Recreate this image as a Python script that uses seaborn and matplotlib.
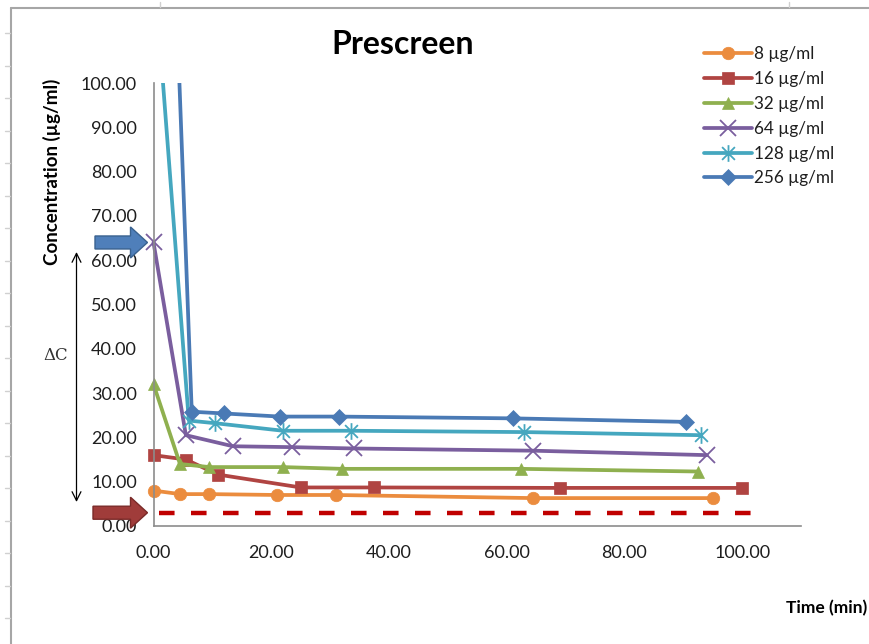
import numpy as np
import pandas as pd
import seaborn as sns
import matplotlib
matplotlib.use("Agg")
import matplotlib.pyplot as plt
from matplotlib.path import Path
from matplotlib.patches import Rectangle, FancyArrow
from matplotlib.lines import Line2D
from matplotlib.transforms import IdentityTransform

# ---- data: concentration (µg/ml) versus time (min) for each starting dose ----
labels = ["8 µg/ml", "16 µg/ml", "32 µg/ml", "64 µg/ml", "128 µg/ml", "256 µg/ml"]

t_8 = [0, 4.5, 9.5, 21, 31, 64.5, 95]
c_8 = [8.0, 7.2, 7.2, 7.0, 7.0, 6.3, 6.3]

t_16 = [0, 5.5, 11, 25, 37.5, 69, 100]
c_16 = [16.0, 15.0, 11.6, 8.7, 8.7, 8.6, 8.6]

t_32 = [0, 4.5, 9.5, 22, 32, 62.5, 92.5]
c_32 = [32.0, 14.0, 13.3, 13.3, 12.9, 12.9, 12.3]

t_64 = [0, 5.5, 13.5, 23.5, 34, 64.5, 94]
c_64 = [64.0, 20.5, 18.0, 17.8, 17.5, 17.0, 16.0]

t_128 = [0, 6, 10.5, 22, 33.5, 63, 93]
c_128 = [128.0, 23.8, 23.2, 21.5, 21.5, 21.2, 20.5]

t_256 = [0, 6.5, 12, 21.5, 31.5, 61, 90.5]
c_256 = [256.0, 25.8, 25.4, 24.7, 24.7, 24.3, 23.5]

# detection limit line
limit_t = [1, 103.5]
limit_c = [3.0, 3.0]

y_ticks = [0, 10, 20, 30, 40, 50, 60, 70, 80, 90, 100]
x_ticks = [0, 20, 40, 60, 80, 100]

times = [t_8, t_16, t_32, t_64, t_128, t_256]
concs = [c_8, c_16, c_32, c_64, c_128, c_256]

# ---- styling ----
colors = ["#EB8C3E", "#B04442", "#8FB04F", "#7A5E9E", "#45A7BF", "#4A7AB5"]
asterisk = Path([(-0.5, -0.5), (0.5, 0.5), (-0.5, 0.5), (0.5, -0.5), (0, -0.65), (0, 0.65)],
                [Path.MOVETO, Path.LINETO] * 3)
markers = ["o", "s", "^", "x", asterisk, "D"]
msizes = [9, 9, 9, 11, 12, 8]
LW = 2.7

sns.set_theme(style="white")
plt.rcParams["font.family"] = ["Lato", "DejaVu Sans"]

W, H = 869, 644
fig = plt.figure(figsize=(W / 100, H / 100), dpi=100)
fig.patch.set_facecolor("white")
ax = fig.add_axes([153.5 / W, 1 - 526 / H, (801 - 153.5) / W, (526 - 83) / H])

clip = Rectangle((-0.05, -0.05), 1.1, 1.05, transform=ax.transAxes)


def is_stroke(mk):
    return mk == "x" or mk is asterisk


handles = []
for lab, t, c, col, mk, ms in zip(labels, times, concs, colors, markers, msizes):
    df = pd.DataFrame({"Time (min)": t, "Concentration": c})
    before = len(ax.lines)
    mew = 1.3 if is_stroke(mk) else 0.5
    sns.lineplot(data=df, x="Time (min)", y="Concentration", ax=ax, sort=False,
                 estimator=None, color=col, lw=LW, marker=mk, markersize=ms,
                 markeredgecolor=col, markerfacecolor=col,
                 markeredgewidth=mew, legend=False)
    ln = ax.lines[before]
    ln.set_clip_path(clip)
    handles.append(Line2D([], [], color=col, lw=LW, marker=mk,
                          markersize=ms, markeredgecolor=col, markerfacecolor=col,
                          markeredgewidth=mew, label=lab))

sns.lineplot(x=limit_t, y=limit_c, ax=ax, color="#C00000", lw=3.2,
             linestyle=(0, (3.5, 3.7)), legend=False, estimator=None)
ax.lines[-1].set_dash_capstyle("butt")

ax.set_xlim(0, 110)
ax.set_ylim(0, 100)
ax.set_xticks(x_ticks)
ax.set_yticks(y_ticks)
ax.set_xticklabels([f"{v:.2f}" for v in x_ticks])
ax.set_yticklabels([f"{v:.2f}" for v in y_ticks])
ax.set_xlabel("")
ax.set_ylabel("")
for s in ("top", "right"):
    ax.spines[s].set_visible(False)
for s in ("left", "bottom"):
    ax.spines[s].set_color("#8C8C8C")
    ax.spines[s].set_linewidth(1.2)
ax.tick_params(axis="both", direction="out", length=5, width=1.2, color="#8C8C8C",
               labelsize=13, labelcolor="#1E1E1E", pad=7)
ax.tick_params(axis="x", pad=9)
ax.grid(False)

# titles
fig.text(403 / W, 1 - 45 / H, "Prescreen", ha="center", va="center",
         fontsize=23, fontweight="bold", color="black")
fig.text(52 / W, 1 - 172 / H, "Concentration (µg/ml)", ha="center", va="center",
         rotation=90, fontsize=13.5, fontweight="bold", color="black")
fig.text(786 / W, 1 - 608 / H, "Time (min)", ha="left", va="center",
         fontsize=12.5, fontweight="bold", color="black")

# legend
leg = ax.legend(handles=handles, loc="upper left", bbox_to_anchor=(704 / W, 1 - 46 / H),
                bbox_transform=fig.transFigure, frameon=False, fontsize=12.3,
                handlelength=2.8, handletextpad=0.1, labelspacing=0.52,
                borderpad=0, borderaxespad=0)
for txt in leg.get_texts():
    txt.set_color("#1E1E1E")

# pointer arrows at the starting level and the detection limit
def ypix(v):
    return ax.transData.transform((0, v))[1]

x_tip = ax.transData.transform((0, 0))[0] - 6
y64 = ypix(64)
y3 = ypix(3)
fig.add_artist(FancyArrow(95, y64, x_tip - 95, 0, width=13, head_width=31,
                          head_length=17, length_includes_head=True,
                          transform=IdentityTransform(), facecolor="#4F7FBA",
                          edgecolor="#3A628F", lw=1))
fig.add_artist(FancyArrow(93, y3, x_tip - 93, 0, width=13, head_width=31,
                          head_length=17, length_includes_head=True,
                          transform=IdentityTransform(), facecolor="#A03C3A",
                          edgecolor="#7A2A28", lw=1))

# delta C double arrow
ax.annotate("", xy=(76.5, H - 252), xytext=(76.5, H - 502),
            xycoords="figure pixels", textcoords="figure pixels",
            arrowprops=dict(arrowstyle="<->", color="black", lw=0.9,
                            mutation_scale=16, shrinkA=0, shrinkB=0))
fig.text(56 / W, 1 - 355 / H, "ΔC", ha="center", va="center", fontsize=12,
         color="#333333", family=["DejaVu Serif", "DejaVu Sans"])

# sheet frame around the chart
frame_col = "#A6A6A6"
fig.add_artist(Line2D([11, W], [H - 8, H - 8], transform=IdentityTransform(),
                      color=frame_col, lw=1.5))
fig.add_artist(Line2D([11, 11], [0, H - 8], transform=IdentityTransform(),
                      color=frame_col, lw=1.5))
for yy in np.arange(33, H, 32.5):
    fig.add_artist(Line2D([5, 10], [H - yy, H - yy], transform=IdentityTransform(),
                          color="#D0D0D0", lw=1))
for xx in (160, 789):
    fig.add_artist(Line2D([xx, xx], [H - 2, H - 7], transform=IdentityTransform(),
                          color="#D0D0D0", lw=1))

fig.savefig("out.png", dpi=100, facecolor="white")
